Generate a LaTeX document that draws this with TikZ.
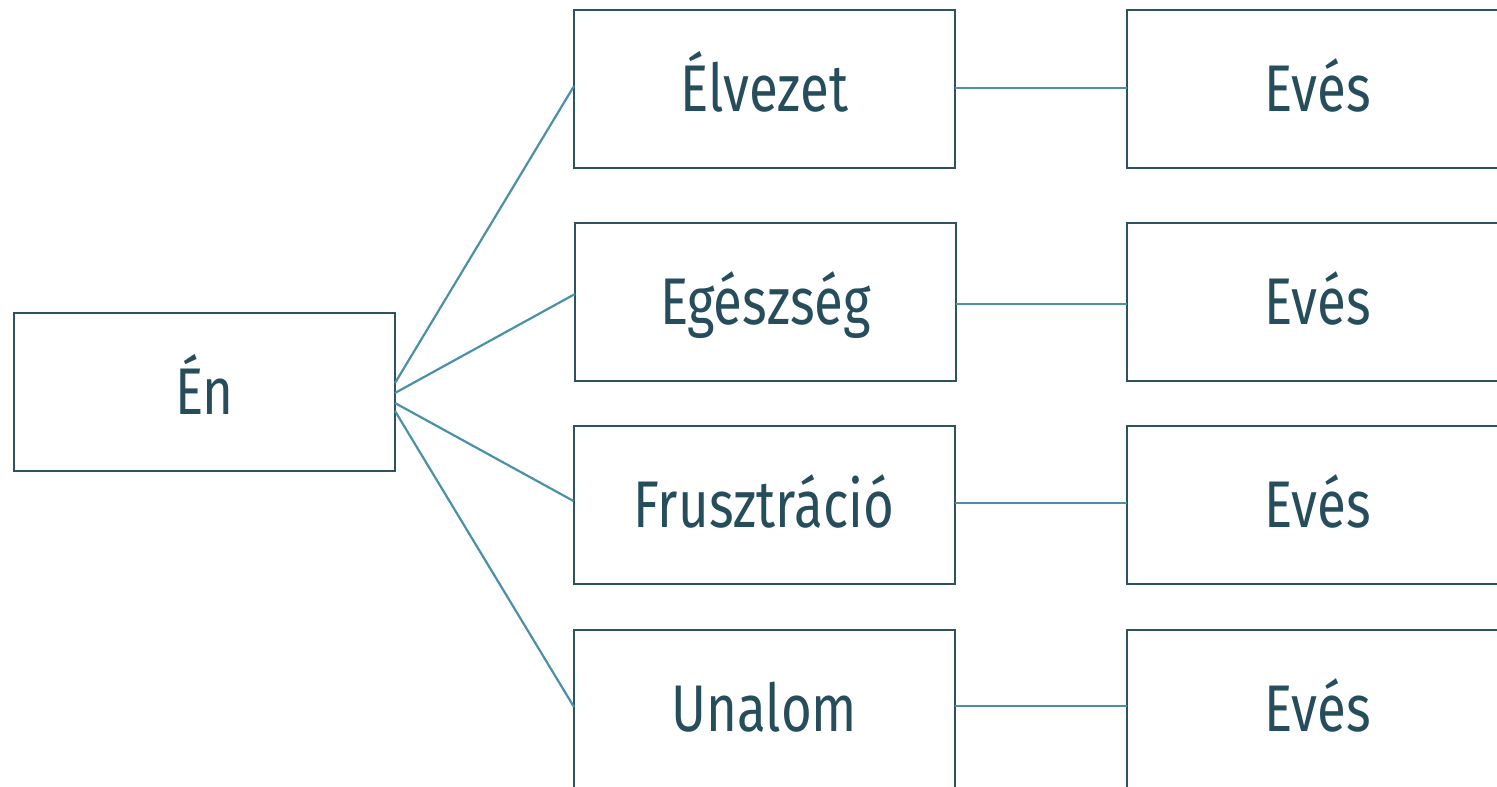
\documentclass[tikz,border=0pt]{standalone}
\usepackage{fontspec}
\setmainfont{Fira Sans}[FakeStretch=0.8]
\usetikzlibrary{calc}
\definecolor{boxline}{HTML}{2E5260}
\definecolor{txt}{HTML}{264D5C}
\definecolor{conn}{HTML}{4A90A8}
\begin{document}
\begin{tikzpicture}[x=1pt,y=-1pt,
  item/.style={draw=boxline,line width=2pt,fill=white,minimum width=381pt,minimum height=158pt,
    inner sep=0pt,outer sep=0pt,text=txt,font=\fontsize{66}{70}\selectfont,anchor=center,
    text height=44pt,text depth=0pt},
  link/.style={draw=conn,line width=2.2pt}]
\useasboundingbox (0,0) rectangle (1497,787);
\clip (0,0) rectangle (1497,787);
\node[item] (en) at (204.5,392) {Én};
\node[item] (a2) at (764.5,89) {Élvezet};
\node[item] (b2) at (765.5,302) {Egészség};
\node[item] (c2) at (764,505) {Frusztráció};
\node[item] (d2) at (764.5,709) {Unalom};
\node[item] (a3) at (1317.5,89) {Evés};
\node[item] (b3) at (1317.5,302) {Evés};
\node[item] (c3) at (1317.5,505) {Evés};
\node[item] (d3) at (1317.5,709) {Evés};
\draw[link] ($(en.east)+(0,-9)$) -- ($(a2.west)+(0,-3)$);
\draw[link] ($(en.east)+(0,1)$) -- ($(b2.west)+(0,-8)$);
\draw[link] ($(en.east)+(0,11)$) -- ($(c2.west)+(0,-4)$);
\draw[link] ($(en.east)+(0,19)$) -- ($(d2.west)+(0,-2)$);
\draw[link] ($(a2.east)+(0,-1)$) -- ($(a3.west)+(0,-1)$);
\draw[link] ($(b2.east)+(0,2)$) -- ($(b3.west)+(0,2)$);
\draw[link] ($(c2.east)+(0,-2)$) -- ($(c3.west)+(0,-2)$);
\draw[link] ($(d2.east)+(0,-3)$) -- ($(d3.west)+(0,-3)$);
\end{tikzpicture}
\end{document}
